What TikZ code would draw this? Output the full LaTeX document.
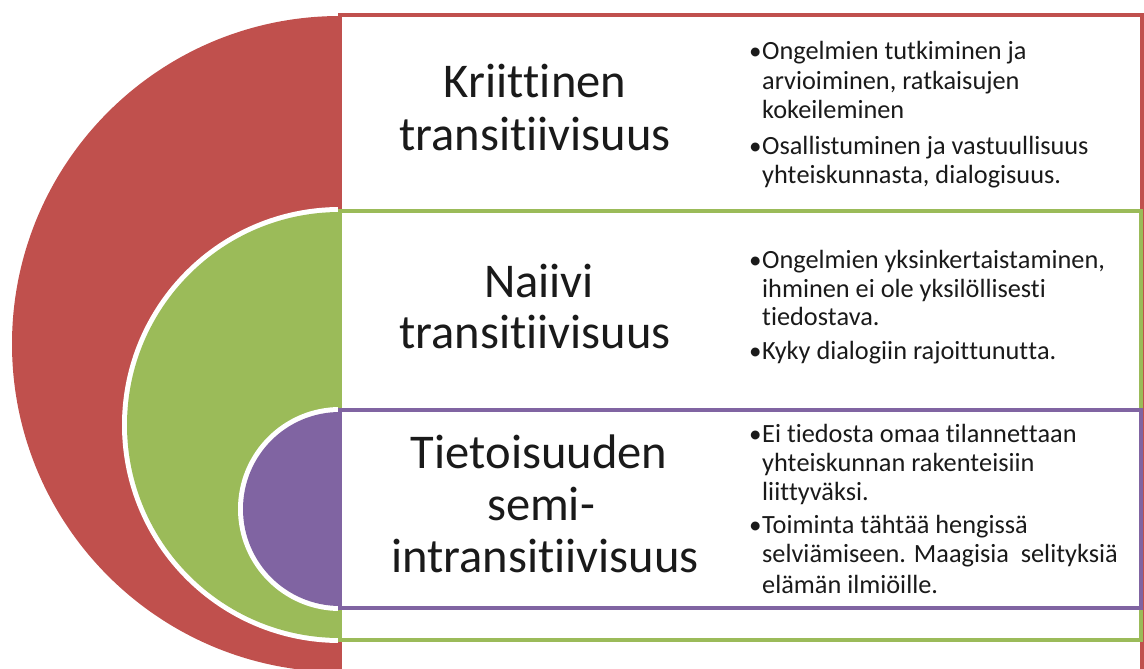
\documentclass[tikz,border=0pt]{standalone}
\usepackage{fontspec}
\setmainfont{Carlito}[Ligatures={NoCommon,NoContextual,NoRare}]
\XeTeXinterchartokenstate=1
\newXeTeXintercharclass\tcls
\XeTeXcharclass`\t=\tcls
\XeTeXinterchartoks\tcls 0 = {\kern0pt}
\XeTeXinterchartoks\tcls\tcls = {\kern0pt}
\definecolor{cred}{HTML}{C0504D}
\definecolor{cgreen}{HTML}{9BBB59}
\definecolor{cpurple}{HTML}{8064A2}
\definecolor{ctext}{HTML}{1A1A1A}
\tikzset{
  levelbox/.style={fill=white, line width=4pt},
  titleline/.style={anchor=base, inner sep=0pt, text=ctext, font=\fontsize{48.5}{52}\selectfont},
  bodyline/.style={anchor=base west, inner sep=0pt, text=ctext, font=\fontsize{26.3}{29}\selectfont},
  bulletmark/.style={anchor=base west, inner sep=0pt, text=ctext, font=\fontsize{25}{29}\selectfont},
}
\begin{document}
\begin{tikzpicture}[x=1pt,y=-1pt]
\useasboundingbox (0,0) rectangle (1144,669);
\clip (0,0) rectangle (1144,669);
% half disks
\begin{scope}
  \clip (0,0) rectangle (340,669);
  \fill[cred] (340,344) circle[radius=328];
  \fill[white] (340,425) circle[radius=218];
  \fill[cgreen] (340,425) circle[radius=213];
  \fill[white] (340,509) circle[radius=102];
  \fill[cpurple] (340,509) circle[radius=97];
\end{scope}
% boxes
\draw[levelbox, draw=cred] (340,15) rectangle (1142,700);
\draw[levelbox, draw=cgreen] (340,211) rectangle (1141,640);
\draw[levelbox, draw=cpurple] (340,410) rectangle (1141,608);
% titles
\node[titleline] (t1a) at (535,98) {Kriittinen};
\node[titleline] (t1b) at (535,150) {transitiivisuus};
\node[titleline] (t2a) at (539,297) {Naiivi};
\node[titleline] (t2b) at (535,348) {transitiivisuus};
\node[titleline] (t3a) at (539,468) {Tietoisuuden};
\node[titleline] (t3b) at (541,520) {semi-};
\node[titleline] (t3c) at (545,572) {intransitiivisuus};
% red box bullets
\node[bulletmark] (b1) at (749,60) {•};
\node[bodyline] (l1) at (762,60) {Ongelmien tutkiminen ja};
\node[bodyline] (l2) at (762,89) {arvioiminen, ratkaisujen};
\node[bodyline] (l3) at (762,118) {kokeileminen};
\node[bulletmark] (b2) at (749,154) {•};
\node[bodyline] (l4) at (762,154) {Osallistuminen ja vastuullisuus};
\node[bodyline] (l5) at (762,183) {yhteiskunnasta, dialogisuus.};
% green box bullets
\node[bulletmark] (b3) at (749,268) {•};
\node[bodyline] (l6) at (762,268) {Ongelmien yksinkertaistaminen,};
\node[bodyline] (l7) at (762,297) {ihminen ei ole yksilöllisesti};
\node[bodyline] (l8) at (762,325) {tiedostava.};
\node[bulletmark] (b4) at (749,359) {•};
\node[bodyline] (l9) at (762,359) {Kyky dialogiin rajoittunutta.};
% purple box bullets
\node[bulletmark] (b5) at (749,442) {•};
\node[bodyline] (l10) at (762,442) {Ei tiedosta omaa tilannettaan};
\node[bodyline] (l11) at (762,471) {yhteiskunnan rakenteisiin};
\node[bodyline] (l12) at (762,500) {liittyväksi.};
\node[bulletmark] (b6) at (749,533) {•};
\node[bodyline] (l13) at (762,533) {Toiminta tähtää hengissä};
\node[bodyline] (l14) at (762,562) {selviämiseen. Maagisia~ selityksiä};
\node[bodyline] (l15) at (762,593) {elämän ilmiöille.};
\end{tikzpicture}
\end{document}
